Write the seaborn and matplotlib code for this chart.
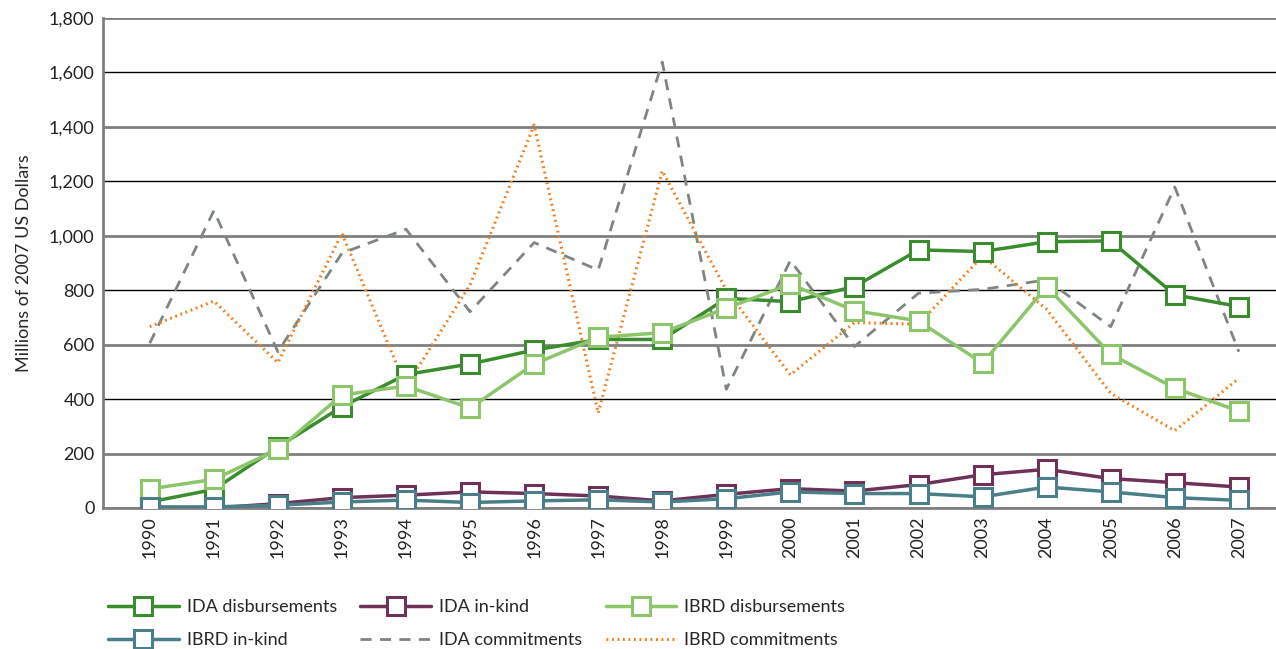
import numpy as np
import pandas as pd
import matplotlib
matplotlib.use("Agg")
import matplotlib.pyplot as plt
import seaborn as sns
from matplotlib.ticker import FuncFormatter
from matplotlib.lines import Line2D

years = list(range(1990, 2008))
ida_disb = [22, 68, 224, 372, 490, 529, 580, 619, 619, 770, 758, 813, 948, 942, 978, 981, 783, 740]
ida_inkind = [0, 0, 16, 38, 47, 59, 53, 44, 26, 50, 71, 62, 86, 122, 142, 108, 93, 77]
ibrd_disb = [70, 105, 215, 415, 448, 367, 529, 627, 644, 734, 822, 725, 687, 532, 813, 565, 440, 356]
ibrd_inkind = [4, 4, 10, 22, 29, 20, 26, 30, 22, 34, 59, 53, 53, 41, 77, 59, 38, 28]
ida_commit = [605, 1092, 574, 936, 1024, 721, 975, 874, 1638, 436, 909, 593, 789, 803, 838, 666, 1179, 574]
ibrd_commit = [666, 760, 534, 1009, 446, 820, 1407, 349, 1238, 800, 489, 681, 675, 926, 730, 421, 284, 476]

series = ["IDA disbursements", "IDA in-kind", "IBRD disbursements",
          "IBRD in-kind", "IDA commitments", "IBRD commitments"]
values = [ida_disb, ida_inkind, ibrd_disb, ibrd_inkind, ida_commit, ibrd_commit]
colors = ["#3b8c2f", "#6e3157", "#8dc56b", "#4a7f89", "#7f8680", "#f07f1c"]

df = pd.DataFrame({
    "year": np.tile(years, len(series)),
    "value": np.concatenate(values),
    "series": np.repeat(series, len(years)),
})

sns.set_style("white")
plt.rcParams["font.family"] = ["Lato", "DejaVu Sans"]

fig = plt.figure(figsize=(12.76, 6.49), dpi=100)
ax = fig.add_axes([0.0807, 0.2173, 0.9193, 0.755])

dash = (0, (4, 3))
dot = (0, (0.6, 1.2))

# commitments first so the marker series sit on top
for name, col in zip(series, colors):
    sub = df[df["series"] == name]
    if name == "IDA commitments":
        sns.lineplot(data=sub, x="year", y="value", ax=ax, color=col, lw=2,
                     linestyle=dash, zorder=3)
    elif name == "IBRD commitments":
        sns.lineplot(data=sub, x="year", y="value", ax=ax, color=col, lw=2.2,
                     linestyle=dot, zorder=3)
for name, col in zip(series, colors):
    sub = df[df["series"] == name]
    if "commitments" in name:
        continue
    sns.lineplot(data=sub, x="year", y="value", ax=ax, color=col, lw=2.5,
                 marker="s", markersize=13, markerfacecolor="white",
                 markeredgecolor=col, markeredgewidth=2.2, zorder=4)


def h(name, col):
    if name == "IDA commitments":
        return Line2D([], [], color=col, lw=2, linestyle=dash)
    if name == "IBRD commitments":
        return Line2D([], [], color=col, lw=2.2, linestyle=dot)
    return Line2D([], [], color=col, lw=2.5, marker="s", markersize=13,
                  markerfacecolor="white", markeredgecolor=col, markeredgewidth=2.2)


hd = {n: h(n, c) for n, c in zip(series, colors)}
order = ["IDA disbursements", "IBRD in-kind", "IDA in-kind",
         "IDA commitments", "IBRD disbursements", "IBRD commitments"]
fig.legend([hd[n] for n in order], order, ncol=3, frameon=False,
           loc="lower left", bbox_to_anchor=(0.072, -0.024), fontsize=13,
           handlelength=3.9, columnspacing=1.3, labelspacing=0.95, handletextpad=0.45)

ax.set_ylim(0, 1800)
ax.set_xlim(1990 - 0.73, 2007 + 0.58)
ax.set_yticks(range(0, 1801, 200))
ax.set_xticks(years)
ax.set_xticklabels([str(y) for y in years], rotation=90)
ax.yaxis.set_major_formatter(FuncFormatter(lambda v, p: f"{int(v):,}"))
ax.tick_params(axis="both", length=0, labelsize=13, pad=6, colors="#222222")
ax.set_xlabel("")
ax.set_ylabel("Millions of 2007 US Dollars", fontsize=13, labelpad=12)

for v in range(0, 1801, 200):
    if v in (400, 800, 1200, 1600):
        ax.axhline(v, color="black", lw=1, zorder=1)
    else:
        ax.axhline(v, color="#808080", lw=2, zorder=1)

for s in ["top", "right"]:
    ax.spines[s].set_visible(False)
for s in ["left", "bottom"]:
    ax.spines[s].set_color("#808080")
    ax.spines[s].set_linewidth(2)

fig.savefig("out.png", dpi=100)
